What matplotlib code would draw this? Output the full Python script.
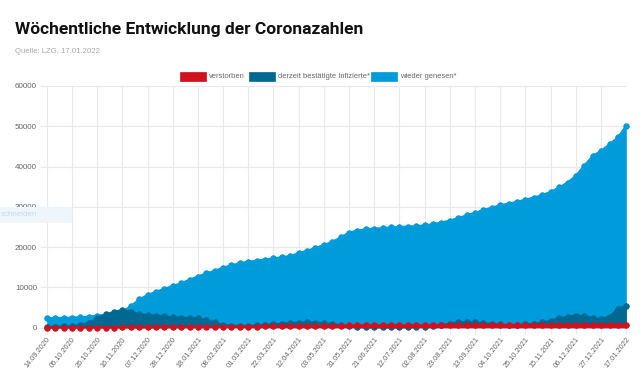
import matplotlib
matplotlib.use("Agg")
import matplotlib.pyplot as plt
from matplotlib.patches import Rectangle

# ---------------- data ----------------
dates = [
    "14.09.2020", "21.09.2020", "28.09.2020", "05.10.2020", "12.10.2020", "19.10.2020",
    "26.10.2020", "02.11.2020", "09.11.2020", "16.11.2020", "23.11.2020", "30.11.2020",
    "07.12.2020", "14.12.2020", "21.12.2020", "28.12.2020", "04.01.2021", "11.01.2021",
    "18.01.2021", "25.01.2021", "01.02.2021", "08.02.2021", "15.02.2021", "22.02.2021",
    "01.03.2021", "08.03.2021", "15.03.2021", "22.03.2021", "29.03.2021", "05.04.2021",
    "12.04.2021", "19.04.2021", "26.04.2021", "03.05.2021", "10.05.2021", "17.05.2021",
    "31.05.2021", "07.06.2021", "14.06.2021", "21.06.2021", "28.06.2021", "05.07.2021",
    "12.07.2021", "19.07.2021", "26.07.2021", "02.08.2021", "09.08.2021", "16.08.2021",
    "23.08.2021", "30.08.2021", "06.09.2021", "13.09.2021", "20.09.2021", "27.09.2021",
    "04.10.2021", "11.10.2021", "18.10.2021", "25.10.2021", "01.11.2021", "08.11.2021",
    "15.11.2021", "22.11.2021", "29.11.2021", "06.12.2021", "13.12.2021", "20.12.2021",
    "27.12.2021", "03.01.2022", "10.01.2022", "17.01.2022",
]

genesen = [
    2300, 2400, 2450, 2500, 2600, 2700, 3000, 3200, 3500, 4000,
    5300, 7000, 8100, 8900, 9600, 10400, 11000, 11900, 12700, 13500,
    14100, 14900, 15500, 16000, 16400, 16600, 16900, 17200, 17500, 17800,
    18500, 19100, 19800, 20500, 21300, 22400, 23600, 24100, 24400, 24600,
    24700, 24900, 25000, 25100, 25200, 25400, 25700, 26100, 26600, 27200,
    27900, 28500, 29200, 29800, 30400, 30800, 31200, 31800, 32300, 32900,
    33700, 34800, 36000, 37700, 40200, 42600, 43900, 45500, 47200, 50100,
]

infizierte = [
    200, 250, 300, 400, 600, 1200, 2300, 3300, 3900, 4400,
    4000, 3400, 3100, 3000, 2800, 2600, 2500, 2400, 2300, 2000,
    1300, 700, 500, 450, 450, 550, 700, 850, 1000, 1150,
    1250, 1300, 1250, 1100, 900, 600, 300, 150, 80, 60,
    50, 60, 80, 100, 150, 250, 400, 700, 1000, 1300,
    1400, 1300, 1100, 950, 800, 700, 700, 800, 1000, 1300,
    1700, 2300, 2700, 3000, 2900, 2400, 2200, 2700, 4700, 5400,
]

verstorben = [
    20, 20, 20, 20, 25, 25, 30, 35, 40, 50,
    60, 70, 80, 95, 110, 125, 140, 155, 170, 185,
    200, 215, 230, 245, 260, 280, 300, 320, 340, 360,
    380, 400, 430, 460, 490, 520, 550, 570, 580, 590,
    590, 590, 590, 590, 590, 595, 595, 595, 600, 600,
    600, 600, 600, 605, 605, 605, 610, 610, 615, 620,
    625, 635, 645, 655, 665, 675, 680, 690, 695, 700,
]

series_labels = ["verstorben", "derzeit bestätigte Infizierte*", "wieder genesen*"]
y_ticks = [0, 10000, 20000, 30000, 40000, 50000, 60000]

title = "Wöchentliche Entwicklung der Coronazahlen"
subtitle = "Quelle: LZG, 17.01.2022"

# ---------------- style ----------------
C_RED = "#d1111b"
C_DARK = "#006891"
C_LIGHT = "#009bdb"
GRID = "#e9e9e9"
TXT = "#666666"

W, H = 640, 376
fig = plt.figure(figsize=(W / 100, H / 100), dpi=100)
fig.patch.set_facecolor("white")

def fx(px):
    return px / W

def fy(py):
    return 1 - py / H

x0, x1 = 46.7, 626.3
y_top, y_bot = 85.9, 327.7
ax = fig.add_axes([fx(x0), fy(y_bot), fx(x1) - fx(x0), fy(y_top) - fy(y_bot)])

xs = list(range(len(dates)))

for vals, col, z in [(genesen, C_LIGHT, 2), (infizierte, C_DARK, 3), (verstorben, C_RED, 4)]:
    ax.fill_between(xs, 0, vals, color=col, lw=0, zorder=z)
    ax.plot(xs, vals, color=col, lw=1.5, marker="o", ms=4.0, mew=0.6, mec=col, mfc=col,
            zorder=z + 0.5, clip_on=False)

ax.set_xlim(0, len(dates) - 1)
ax.set_ylim(0, 60000)
ax.set_yticks(y_ticks)
ax.set_yticklabels([str(v) for v in y_ticks], fontsize=5.8, color=TXT,
                   family=["Liberation Sans", "DejaVu Sans"])
tick_pos = xs[::3]
ax.set_xticks(tick_pos)
ax.set_xticklabels([dates[i] for i in tick_pos], rotation=52, ha="right",
                   rotation_mode="anchor", fontsize=5.3, color=TXT,
                   family=["Liberation Sans", "DejaVu Sans"])
ax.tick_params(axis="y", length=5, color=GRID, pad=2)
ax.tick_params(axis="x", length=4, color=GRID, pad=2)
ax.grid(True, color=GRID, lw=0.8, zorder=0)
ax.set_axisbelow(True)
for s in ax.spines.values():
    s.set_visible(False)

# ---------------- title ----------------
fig.text(fx(15), fy(34), title, fontsize=12.5, fontweight="bold", color="#111111",
         family=["Liberation Sans Narrow", "Roboto", "DejaVu Sans"], va="baseline")
fig.text(fx(15), fy(53), subtitle, fontsize=5.6, color="#a8a8a8",
         family=["Liberation Sans", "DejaVu Sans"], va="baseline")

# ---------------- legend ----------------
legend_items = [
    (series_labels[0], C_RED, 180.3),
    (series_labels[1], C_DARK, 249.3),
    (series_labels[2], C_LIGHT, 371.0),
]
for lab, col, bx in legend_items:
    fig.add_artist(Rectangle((fx(bx), fy(80.7)), fx(26), 9 / H,
                             transform=fig.transFigure, facecolor=col,
                             edgecolor=col, lw=0.5))
    fig.text(fx(bx + 29), fy(76.2), lab, fontsize=5.4, color=TXT, va="center",
             family=["Liberation Sans", "DejaVu Sans"])

# UI artefact at the left edge
fig.add_artist(Rectangle((0, fy(223)), fx(72), 16 / H, transform=fig.transFigure,
                         facecolor="#eef6fc", edgecolor="none"))
fig.text(fx(1), fy(215), "schneiden", fontsize=5.8, color="#c4dbeb", va="center",
         family=["Liberation Sans", "DejaVu Sans"])

fig.savefig("out.png", dpi=100, facecolor="white")
